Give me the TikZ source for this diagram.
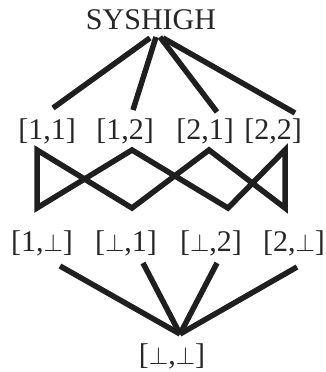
\documentclass[tikz,border=0pt]{standalone}
\usepackage{fontspec}
\setmainfont{Liberation Serif}
\usepackage{tikz}
\usetikzlibrary{calc}
\tikzset{
  lbl/.style  = {inner sep=0pt, text=black!85, font=\fontsize{30}{32}\selectfont},
  edge/.style = {line width=5.5pt, black!88},
}

\begin{document}
\begin{tikzpicture}[x=1pt, y=-1pt]
  \useasboundingbox (0,0) rectangle (326,372);

  \node[lbl] (sys) at (151,20)  {SYSHIGH};

  \node[lbl] (a11) at (47,131)  {[1,1]};
  \node[lbl] (a12) at (125,131) {[1,2]};
  \node[lbl] (a21) at (205,131) {[2,1]};
  \node[lbl] (a22) at (273,131) {[2,2]};

  \node[lbl] (b1x) at (42,243)  {[1,$\bot$]};
  \node[lbl] (bx1) at (126,243) {[$\bot$,1]};
  \node[lbl] (bx2) at (211,243) {[$\bot$,2]};
  \node[lbl] (b2x) at (294,243) {[2,$\bot$]};

  \node[lbl] (bot) at (172,356) {[$\bot$,$\bot$]};

  % top level
  \draw[edge] ($(sys)+(-1,18)$) -- ($(a11)+(6,-23)$);
  \draw[edge] ($(sys)+(5,17)$)  -- ($(a12)+(8,-21)$);
  \draw[edge] ($(sys)+(9,17)$)  -- ($(a21)+(12,-19)$);
  \draw[edge] ($(sys)+(12,18)$) -- ($(a22)+(22,-18)$);

  % middle crossing
  \coordinate (a11s) at ($(a11)+(-10,19)$);
  \coordinate (a12s) at ($(a12)+(7,19)$);
  \coordinate (a21s) at ($(a21)+(4,19)$);
  \coordinate (a22s) at ($(a22)+(12,19)$);
  \coordinate (b1xn) at ($(b1x)+(-5,-35)$);
  \coordinate (bx1n) at ($(bx1)+(6,-35)$);
  \coordinate (bx2n) at ($(bx2)+(17,-35)$);
  \coordinate (b2xn) at ($(b2x)+(-9,-35)$);
  \draw[edge] (b1xn) -- (a11s) -- (bx1n) -- (a21s) -- (b2xn) -- (a22s)
              -- (bx2n) -- (a12s) -- cycle;

  % bottom level
  \coordinate (botn) at ($(bot)+(8,-22)$);
  \draw[edge] ($(b1x)+(18,23)$) -- (botn);
  \draw[edge] ($(bx1)+(17,20)$) -- (botn);
  \draw[edge] ($(bx2)+(6,20)$)  -- (botn);
  \draw[edge] ($(b2x)+(3,24)$)  -- (botn);
\end{tikzpicture}
\end{document}
